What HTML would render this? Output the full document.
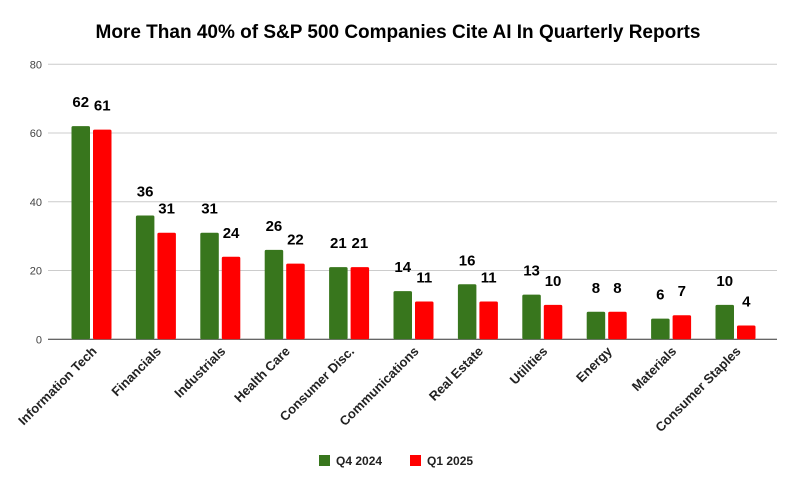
<!DOCTYPE html>
<html><head><meta charset="utf-8"><style>
body{margin:0;background:#fff;}
svg{display:block;font-family:"Liberation Sans",Arial,sans-serif;}
</style></head><body>
<svg id="chart" width="797" height="490">
<text x="398" y="38" text-anchor="middle" font-size="19" font-weight="bold" fill="#000">More Than 40% of S&amp;P 500 Companies Cite AI In Quarterly Reports</text>
<g id="grid"></g><g id="bars"></g><g id="xl"></g>
<g>
<rect x="319" y="455" width="11" height="11" fill="#38761d"/>
<text x="336" y="465" font-size="12" font-weight="bold" fill="#222">Q4 2024</text>
<rect x="410" y="455" width="11" height="11" fill="#ff0000"/>
<text x="427" y="465" font-size="12" font-weight="bold" fill="#222">Q1 2025</text>
</g>
</svg>
<script>
const categories=["Information Tech","Financials","Industrials","Health Care","Consumer Disc.","Communications","Real Estate","Utilities","Energy","Materials","Consumer Staples"];
const q4=[62,36,31,26,21,14,16,13,8,6,10];
const q1=[61,31,24,22,21,11,11,10,8,7,4];
const yTicks=[0,20,40,60,80];
const NS="http://www.w3.org/2000/svg";
const y0=339.3,y80=64.3,x0=91.5,step=64.4;
const y=v=>y0-(v/80)*(y0-y80);
const cx=i=>x0+i*step;
function mk(t,a,p){const e=document.createElementNS(NS,t);for(const k in a)e.setAttribute(k,a[k]);p.appendChild(e);return e;}
const grid=document.getElementById('grid'),bars=document.getElementById('bars'),xl=document.getElementById('xl');
yTicks.forEach(t=>{
 const l=mk('line',{x1:48,x2:777,y1:y(t),y2:y(t),stroke:t===0?'#333':'#ccc','stroke-width':1},grid);
 
 
 const tx=mk('text',{x:42,y:y(t)+4,'text-anchor':'end','font-size':11,fill:'#444'},grid);
 tx.textContent=t;
 
 
});
categories.forEach((c,i)=>{
 [[q4,'#38761d',-20,'q4'],[q1,'#ff0000',1.5,'q1']].forEach(([arr,col,off,s])=>{
  const v=arr[i],bx=cx(i)+off;
  const r=mk('rect',{x:bx,y:y(v),width:18.5,height:y0-y(v),fill:col,rx:1.5},bars);
  
  
  const t=mk('text',{x:bx+9.25,y:y(v)-19,'text-anchor':'middle','font-size':15,'font-weight':'bold',fill:'#000'},bars);
  t.textContent=v;
  
  
 });
 const lx=cx(i)+6,ly=352;
 const t=mk('text',{x:lx,y:ly,'text-anchor':'end','font-size':13,'font-weight':'bold',fill:'#222',transform:`rotate(-45 ${lx} ${ly})`},xl);
 t.textContent=c;
 
 
});
</script>
</body></html>
